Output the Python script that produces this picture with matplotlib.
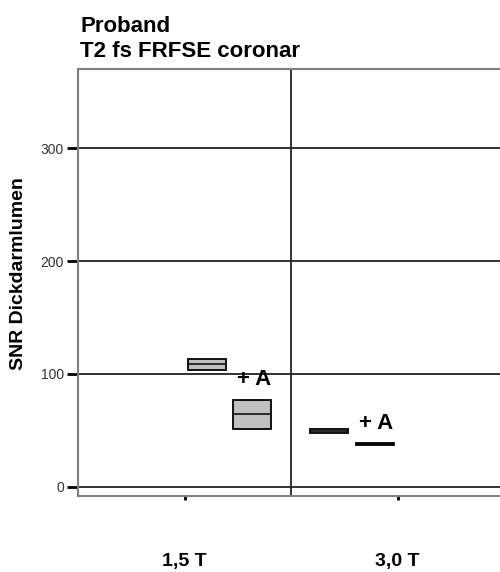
import numpy as np
import matplotlib.pyplot as plt

plt.rcParams['font.family'] = ['Liberation Sans', 'DejaVu Sans']

# data: boxes (q1, median, q3) per field strength, without / with contrast agent
categories = ["1,5 T", "3,0 T"]
box_labels = ["", "+ A", "", "+ A"]
box_pos = [0.604, 0.818, 1.178, 1.393]
q1 = [103.1, 50.9, 47.8, 37.0]
median = [108.6, 64.3, 49.5, 37.7]
q3 = [113.7, 77.0, 51.3, 38.5]
yticks = [0, 100, 200, 300]

fig = plt.figure(figsize=(5, 5.72), dpi=100)
ax = fig.add_axes([0.156, 0.1329, 0.852, 0.7465])

ax.set_xlim(0, 2)
ax.set_ylim(-8, 370)

# reference lines
for y in yticks:
    ax.axhline(y, color='#222222', lw=1.3, zorder=1)
ax.axvline(1, color='#222222', lw=1.3, zorder=1)

# boxes
width = 0.178
ax.bar(box_pos, np.subtract(q3, q1), bottom=q1, width=width,
       facecolor='#c0c0c0', edgecolor='black', linewidth=1.3, zorder=3)
ax.hlines(median, np.subtract(box_pos, width / 2), np.add(box_pos, width / 2),
          color='black', lw=1.1, zorder=4)

for x, top, lab in zip(box_pos, q3, box_labels):
    if lab:
        ax.text(x + 0.008, top + 18, lab, ha='center', va='center',
                fontsize=16, fontweight='bold', zorder=5)

for s in ax.spines.values():
    s.set_color('#808080')
    s.set_linewidth(1.5)

ax.set_yticks(yticks)
ax.set_yticklabels([str(v) for v in yticks], fontsize=10, color='#333333')
ax.tick_params(axis='y', length=8, width=2, color='black', pad=2)

ax.set_xticks([0.5, 1.5])
ax.set_xticklabels(categories, fontsize=14, fontweight='bold')
ax.tick_params(axis='x', length=3, width=2, color='black', pad=38)

fig.text(0.038, 0.521, "SNR Dickdarmlumen", rotation=90, ha='center', va='center',
         fontsize=14, fontweight='bold')
fig.text(0.16, 1 - 32 / 572, "Proband", ha='left', va='baseline',
         fontsize=16, fontweight='bold')
fig.text(0.16, 1 - 57 / 572, "T2 fs FRFSE coronar", ha='left', va='baseline',
         fontsize=16, fontweight='bold')

fig.savefig('out.png', dpi=100)
